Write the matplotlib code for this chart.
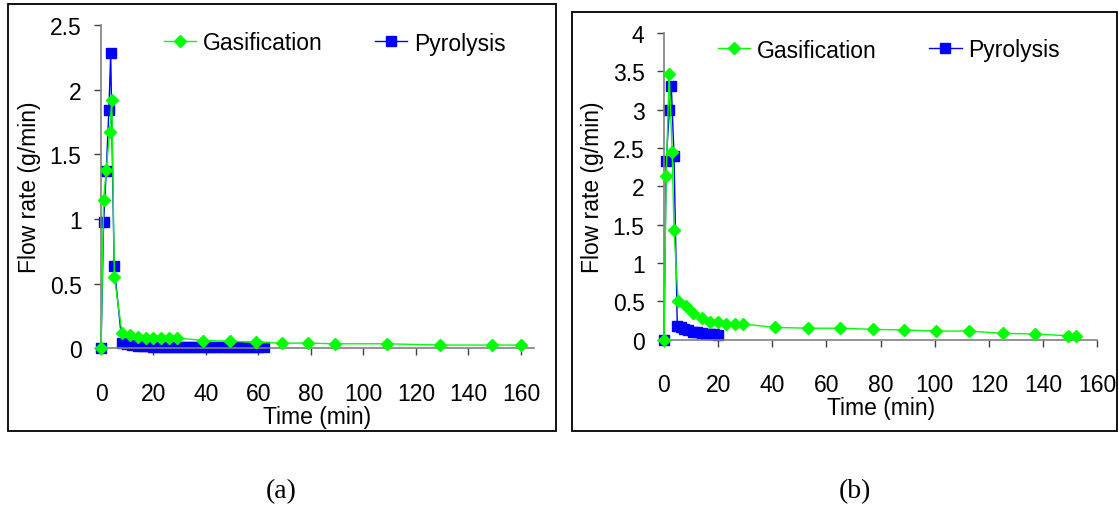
import numpy as np
import matplotlib
matplotlib.use("Agg")
import matplotlib.pyplot as plt
from matplotlib.patches import Rectangle

plt.rcParams['font.family'] = ['Liberation Sans', 'DejaVu Sans']

# region Data
# (a)
a_gas_t = [0, 1, 2, 3.3, 4.1, 5.1, 8, 11, 14, 17, 20, 23, 26, 29, 39, 49, 59, 69, 79, 89, 109, 129, 149, 160]
a_gas_y = [0, 1.15, 1.38, 1.67, 1.92, 0.55, 0.12, 0.10, 0.09, 0.08, 0.08, 0.08, 0.08, 0.08,
           0.06, 0.055, 0.045, 0.04, 0.04, 0.035, 0.035, 0.025, 0.025, 0.025]
a_pyr_t = [0, 1, 2, 3, 3.7, 5,
           8, 10, 12, 14, 16, 18, 20, 22, 24, 26, 28, 30, 32, 34,
           36, 38, 40, 42, 44, 46, 48, 50, 52, 54, 56, 58, 60, 62]
a_pyr_y = [0, 0.98, 1.37, 1.84, 2.28, 0.64,
           0.04, 0.03, 0.025, 0.02, 0.015, 0.015, 0.012, 0.012, 0.012, 0.012, 0.01, 0.01, 0.01, 0.01,
           0.01, 0.012, 0.012, 0.012, 0.01, 0.01, 0.01, 0.008, 0.008, 0.008, 0.008, 0.008, 0.008, 0.008]

# (b)
b_gas_t = [0, 0.8, 1.9, 3, 3.7, 5.2, 8.1, 10.8, 14.1, 17.1, 20, 23, 26.1, 29.1,
           41, 53, 65, 77, 88.7, 100.6, 112.7, 125, 137, 149, 152]
b_gas_y = [0, 2.14, 3.47, 2.45, 1.43, 0.51, 0.44, 0.35, 0.28, 0.235, 0.23, 0.205, 0.205, 0.205,
           0.16, 0.15, 0.15, 0.135, 0.127, 0.113, 0.113, 0.083, 0.074, 0.052, 0.044]
b_pyr_t = [0, 0.8, 2, 2.7, 3.7, 4.9, 6.2, 7.5, 9, 10.6, 12.2, 13.9, 15.5, 17, 18.5, 20]
b_pyr_y = [0, 2.33, 3.0, 3.31, 2.39, 0.18, 0.16, 0.14, 0.12, 0.105, 0.095, 0.087, 0.08, 0.074, 0.07, 0.065]

x_ticks = [0, 20, 40, 60, 80, 100, 120, 140, 160]
a_y_ticks = [0, 0.5, 1, 1.5, 2, 2.5]
b_y_ticks = [0, 0.5, 1, 1.5, 2, 2.5, 3, 3.5, 4]
# endregion

W, H = 1119, 510
fig = plt.figure(figsize=(W / 100, H / 100), dpi=100)


def fx(px):
    return px / W


def fy(py):
    return 1 - py / H


# region Frames
fig.patches.append(Rectangle((fx(8), fy(432)), fx(556 - 8), (432 - 5) / H,
                             transform=fig.transFigure, fill=False, lw=1.3, ec='black'))
fig.patches.append(Rectangle((fx(572), fy(432)), fx(1117 - 572), (432 - 13) / H,
                             transform=fig.transFigure, fill=False, lw=1.3, ec='black'))
# endregion


def draw_panel(rect, gas_t, gas_y, pyr_t, pyr_y, xmax, ymax, yticks):
    ax = fig.add_axes(rect)
    ax.plot(gas_t, gas_y, color='#00ff00', lw=1, marker='D', ms=6.5, mec='#00ff00',
            label='Gasification', clip_on=False, zorder=3)
    ax.plot(pyr_t, pyr_y, color='#0000ff', lw=1, marker='s', ms=7, mec='#0000ff',
            label='Pyrolysis', clip_on=False, zorder=2)
    ax.set_xlim(0, xmax)
    ax.set_ylim(0, ymax)
    ax.set_xticks(x_ticks)
    ax.set_yticks(yticks)
    ax.set_yticklabels(['%g' % v for v in yticks])
    for s in ['top', 'right']:
        ax.spines[s].set_visible(False)
    for s in ['left', 'bottom']:
        ax.spines[s].set_color('#808080')
        ax.spines[s].set_linewidth(1.2)
    ax.tick_params(axis='both', direction='out', length=5, width=1, color='#404040', labelsize=16.5)
    ax.tick_params(axis='x', pad=19)
    ax.tick_params(axis='y', pad=9)
    return ax


ax_a = draw_panel([fx(101), fy(349.3), fx(534 - 101), (349.3 - 26) / H],
                  a_gas_t, a_gas_y, a_pyr_t, a_pyr_y, 165, 2.5, a_y_ticks)
ax_b = draw_panel([fx(664), fy(340.7), fx(1097.3 - 664), (340.7 - 34) / H],
                  b_gas_t, b_gas_y, b_pyr_t, b_pyr_y, 160, 4, b_y_ticks)

ax_a.set_xlabel('Time (min)', fontsize=16.5, labelpad=0)
ax_a.set_ylabel('Flow rate (g/min)', fontsize=16.5, labelpad=6)
ax_b.set_xlabel('Time (min)', fontsize=16.5, labelpad=0)
ax_b.set_ylabel('Flow rate (g/min)', fontsize=16.5, labelpad=6)

leg_kw = dict(ncol=2, frameon=False, fontsize=16.5, handlelength=1.4, handletextpad=0.3,
              columnspacing=2.3, borderaxespad=0, borderpad=0)
ax_a.legend(loc='center left', bbox_to_anchor=(fx(164), fy(44)), bbox_transform=fig.transFigure, **leg_kw)
ax_b.legend(loc='center left', bbox_to_anchor=(fx(718), fy(51)), bbox_transform=fig.transFigure, **leg_kw)

fig.text(fx(281), fy(492), '(a)', family='Liberation Serif', fontsize=20, ha='center', va='center')
fig.text(fx(855), fy(492), '(b)', family='Liberation Serif', fontsize=20, ha='center', va='center')

fig.savefig('out.png', dpi=100)
